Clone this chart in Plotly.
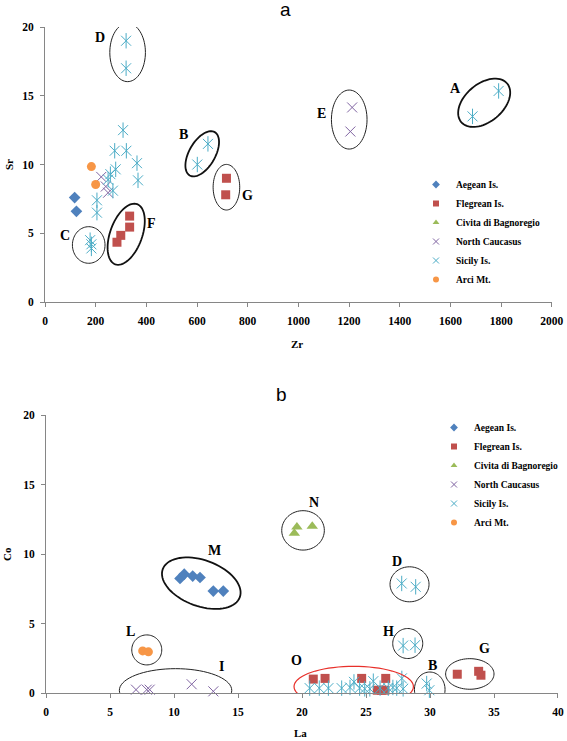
import math
import plotly.graph_objects as go

# ---------------- data: panel a (Zr vs Sr) ----------------
a_aegean_zr = [117, 124]
a_aegean_sr = [7.6, 6.6]
a_flegrean_zr = [334, 334, 299, 284, 716, 713]
a_flegrean_sr = [6.25, 5.45, 4.85, 4.35, 9.0, 7.8]
a_civita_zr = []
a_civita_sr = []
a_ncauc_zr = [1212, 1205, 222, 240, 249]
a_ncauc_sr = [14.15, 12.4, 9.1, 8.4, 7.95]
a_sicily_zr = [320, 320, 308, 275, 321, 363, 367, 279, 258, 249, 268, 205, 205,
               178, 183, 183, 643, 601, 1790, 1687]
a_sicily_sr = [19.0, 17.0, 12.5, 11.0, 11.0, 10.1, 8.85, 9.65, 9.3, 8.9, 8.1, 7.4, 6.5,
               4.5, 4.2, 3.9, 11.5, 10.0, 15.35, 13.5]
a_arci_zr = [183, 200]
a_arci_sr = [9.85, 8.55]

# ---------------- data: panel b (La vs Co) ----------------
b_aegean_la = [10.47, 10.8, 11.46, 12.03, 13.07, 13.85]
b_aegean_co = [8.24, 8.55, 8.41, 8.31, 7.33, 7.33]
b_flegrean_la = [20.88, 21.8, 24.66, 26.54, 25.88, 26.2, 26.48, 32.13, 33.8, 33.98]
b_flegrean_co = [1.0, 1.05, 1.05, 1.05, 0.2, 0.2, 0.2, 1.35, 1.56, 1.28]
b_civita_la = [19.4, 19.6, 20.8]
b_civita_co = [11.5, 11.95, 12.0]
b_ncauc_la = [7.03, 7.87, 8.1, 11.38, 13.07]
b_ncauc_co = [0.24, 0.24, 0.24, 0.63, 0.12]
b_sicily_la = [20.6, 21.35, 22.06, 23.1, 23.75, 24.06, 24.5, 24.9, 25.3, 25.57, 26.1,
               26.74, 27.1, 27.4, 27.8, 27.9, 27.79, 28.88, 27.9, 28.83, 29.74, 29.95]
b_sicily_co = [0.35, 0.35, 0.35, 0.35, 0.4, 0.8, 0.35, 0.3, 0.3, 0.85, 0.35,
               0.35, 0.4, 0.35, 1.05, 0.3, 7.88, 7.64, 3.41, 3.44, 0.68, 0.2]
b_arci_la = [7.55, 8.0]
b_arci_co = [3.03, 2.96]

series_names = ["Aegean Is.", "Flegrean Is.", "Civita di Bagnoregio",
                "North Caucasus", "Sicily Is.", "Arci Mt."]

# ---------------- geometry / style ----------------
W, H = 567, 741
ML, MR, MT, MB = 45, 9, 27, 48
PW, PH = W - ML - MR, H - MT - MB
XDOM_A = [0.0, 0.988]
XDOM_B = [0.002, 1.0]
YDOM_A = [0.587, 1.0]
YDOM_B = [0.0, 0.4174]
XR_A, XR_B, YR = [0, 2000], [0, 40], [0, 20]

sx_a = PW * (XDOM_A[1] - XDOM_A[0]) / (XR_A[1] - XR_A[0])
sy_a = PH * (YDOM_A[1] - YDOM_A[0]) / (YR[1] - YR[0])
sx_b = PW * (XDOM_B[1] - XDOM_B[0]) / (XR_B[1] - XR_B[0])
sy_b = PH * (YDOM_B[1] - YDOM_B[0]) / (YR[1] - YR[0])

COLORS = ["#4F81BD", "#C0504D", "#9BBB59", "#8064A2", "#4BACC6", "#F79646"]
SYMBOLS = ["diamond", "square", "triangle-up", "x-thin-open", "x-thin-open", "circle"]
SIZES = [9, 9, 10, 10, 10, 9]
LEG_SIZES = [6, 6, 6, 6, 6, 6]
AXC = "#868686"
SERIF = "Liberation Serif"

fig = go.Figure()


def add_panel(xa, ya, legend, series):
    for i, (xs, ys) in enumerate(series):
        mk = dict(symbol=SYMBOLS[i], size=SIZES[i], color=COLORS[i])
        if "open" in SYMBOLS[i]:
            mk["line"] = dict(width=1, color=COLORS[i])
        fig.add_trace(go.Scatter(x=xs, y=ys, mode="markers", name=series_names[i],
                                 marker=mk, xaxis=xa, yaxis=ya, showlegend=False,
                                 cliponaxis=False))
        if series_names[i] == "Sicily Is.":
            fig.add_trace(go.Scatter(x=xs, y=ys, mode="markers", showlegend=False,
                                     marker=dict(symbol="line-ns-open", size=11, color=COLORS[i],
                                                 line=dict(width=1, color=COLORS[i])),
                                     xaxis=xa, yaxis=ya, cliponaxis=False, hoverinfo="skip"))
    # legend-only entries with small symbols
    for i in range(len(series_names)):
        mk = dict(symbol=SYMBOLS[i], size=LEG_SIZES[i], color=COLORS[i])
        if "open" in SYMBOLS[i]:
            mk["line"] = dict(width=1, color=COLORS[i])
        fig.add_trace(go.Scatter(x=[None], y=[None], mode="markers", name=series_names[i],
                                 marker=mk, xaxis=xa, yaxis=ya, legend=legend,
                                 showlegend=True))


add_panel("x", "y", "legend",
          [(a_aegean_zr, a_aegean_sr), (a_flegrean_zr, a_flegrean_sr),
           (a_civita_zr, a_civita_sr), (a_ncauc_zr, a_ncauc_sr),
           (a_sicily_zr, a_sicily_sr), (a_arci_zr, a_arci_sr)])
add_panel("x2", "y2", "legend2",
          [(b_aegean_la, b_aegean_co), (b_flegrean_la, b_flegrean_co),
           (b_civita_la, b_civita_co), (b_ncauc_la, b_ncauc_co),
           (b_sicily_la, b_sicily_co), (b_arci_la, b_arci_co)])


# ---------------- group ellipses and letters ----------------
def ellipse_path(cx, cy, a_px, b_px, ang, sx, sy, n=72):
    th = math.radians(ang)
    pts = []
    for i in range(n):
        t = 2 * math.pi * i / n
        dx = a_px * math.cos(t) * math.cos(th) - b_px * math.sin(t) * math.sin(th)
        dy = a_px * math.cos(t) * math.sin(th) + b_px * math.sin(t) * math.cos(th)
        pts.append((cx + dx / sx, cy + dy / sy))
    return "M " + " L ".join(f"{x:.4f},{y:.4f}" for x, y in pts) + " Z"


# (label, cx, cy, semi-axis a px, semi-axis b px, angle deg, line width, colour, label x, label y)
groups_a = [
    ("D", 326, 18.15, 17.8, 29.2, 0, 1.0, "#222", 216, 19.25),
    ("C", 172.5, 4.15, 16.3, 18.3, 0, 1.0, "#222", 80, 4.87),
    ("F", 320.4, 4.93, 32, 16, 70, 1.8, "#111", 420, 5.72),
    ("B", 620.4, 10.78, 25, 13, 60, 1.8, "#111", 545, 12.15),
    ("G", 715.9, 8.35, 13.3, 22.8, 0, 1.0, "#222", 801, 7.78),
    ("E", 1200.5, 13.27, 17.8, 29.5, 0, 1.0, "#222", 1091, 13.72),
    ("A", 1733, 14.49, 30, 19, 40, 1.8, "#111", 1620, 15.5),
]
groups_b = [
    ("M", 12.13, 7.90, 41, 23, -20, 1.8, "#111", 13.2, 10.28),
    ("L", 7.87, 3.10, 15, 15, 0, 1.0, "#222", 6.62, 4.39),
    ("I", 10.12, 0.19, 56.2, 21.7, 0, 1.0, "#222", 13.73, 1.92),
    ("N", 20.08, 11.70, 21.3, 19.7, 0, 1.0, "#222", 20.96, 13.72),
    ("D", 28.4, 7.82, 19.5, 17.5, 0, 1.0, "#222", 27.4, 9.49),
    ("H", 28.26, 3.56, 15, 15, 0, 1.0, "#222", 26.74, 4.39),
    ("B", 29.98, 0.25, 15.3, 17.5, 0, 1.0, "#222", 30.21, 2.0),
    ("G", 33.11, 1.37, 24.2, 15.3, 0, 1.0, "#222", 34.24, 3.2),
    ("O", 24.04, 0.46, 59.7, 20.3, 0, 1.2, "#E8302A", 19.59, 2.36),
]

shapes = []
annotations = []
for groups, xr, yr, sx, sy in ((groups_a, "x", "y", sx_a, sy_a), (groups_b, "x2", "y2", sx_b, sy_b)):
    for (lab, cx, cy, a, b, ang, lw, col, lx, ly) in groups:
        shapes.append(dict(type="path", xref=xr, yref=yr,
                           path=ellipse_path(cx, cy, a, b, ang, sx, sy),
                           line=dict(color=col, width=lw), fillcolor="rgba(0,0,0,0)"))
        annotations.append(dict(x=lx, y=ly, xref=xr, yref=yr, text=lab, showarrow=False,
                                xanchor="center", yanchor="middle",
                                font=dict(family=SERIF, size=14, color="black", weight="bold")))

# panel letters and axis titles, placed by pixel position (converted to paper)
paper_texts = [
    ("a", 285, 9, 0, "Liberation Sans", 19, "normal"),
    ("b", 281, 394, 0, "Liberation Sans", 19, "normal"),
    ("Zr", 297, 344, 0, SERIF, 11, "bold"),
    ("Sr", 9, 165, -90, SERIF, 11, "bold"),
    ("La", 300, 733, 0, SERIF, 11, "bold"),
    ("Co", 7, 554, -90, SERIF, 11, "bold"),
]
for txt, px, py, rot, fam, fs, wt in paper_texts:
    annotations.append(dict(x=(px - ML) / PW, y=(H - MB - py) / PH, xref="paper", yref="paper",
                            xanchor="center", yanchor="middle",
                            text=txt, showarrow=False, textangle=rot,
                            font=dict(family=fam, size=fs, color="black", weight=wt)))

tickfont = dict(family=SERIF, size=11.5, color="black", weight="bold")
common = dict(showline=True, linecolor=AXC, linewidth=1, ticks="outside", ticklen=4,
              tickcolor=AXC, showgrid=False, zeroline=False, tickfont=tickfont,
              ticklabelstandoff=4, automargin=False)

legfont = dict(family=SERIF, size=9.5, color="black", weight="bold")
fig.update_layout(
    template="none",
    width=W, height=H,
    margin=dict(l=ML, r=MR, t=MT, b=MB, pad=0, autoexpand=False),
    paper_bgcolor="white", plot_bgcolor="white",
    showlegend=True,
    xaxis=dict(domain=XDOM_A, range=XR_A, dtick=200, anchor="y", **common),
    yaxis=dict(domain=YDOM_A, range=YR, dtick=5, anchor="x", **common),
    xaxis2=dict(domain=XDOM_B, range=XR_B, dtick=5, anchor="y2", **common),
    yaxis2=dict(domain=YDOM_B, range=YR, dtick=5, anchor="x2", **common),
    legend=dict(x=(416 - ML) / PW, y=(H - MB - 170) / PH, xanchor="left", yanchor="top",
                bgcolor="rgba(0,0,0,0)", borderwidth=0, itemwidth=30, tracegroupgap=0,
                font=legfont),
    legend2=dict(x=(434 - ML) / PW, y=(H - MB - 413) / PH, xanchor="left", yanchor="top",
                 bgcolor="rgba(0,0,0,0)", borderwidth=0, itemwidth=30, tracegroupgap=0,
                 font=legfont),
    shapes=shapes,
    annotations=annotations,
)

fig.write_html("out.html", config={"displayModeBar": False},
               post_script="document.body.style.margin='0';document.body.style.overflow='hidden';")
